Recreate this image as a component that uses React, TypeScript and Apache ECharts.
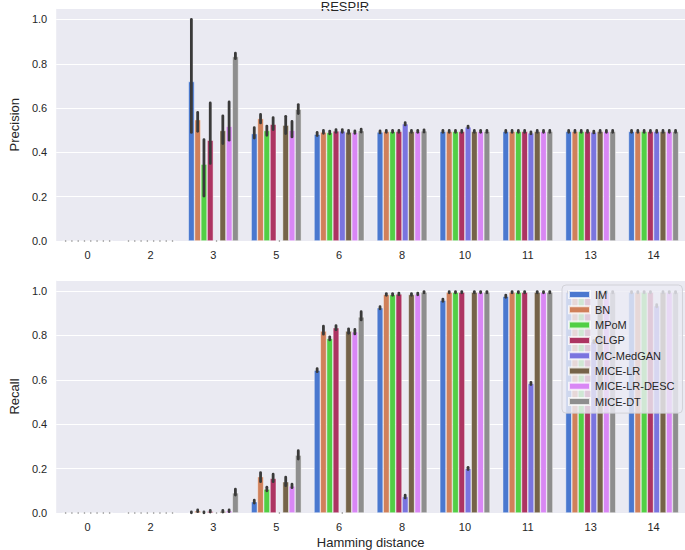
import React, { useEffect, useRef } from "react";
import * as echarts from "echarts";

const categories = ["0", "2", "3", "5", "6", "8", "10", "11", "13", "14"];
const methods = ["IM", "BN", "MPoM", "CLGP", "MC-MedGAN", "MICE-LR", "MICE-LR-DESC", "MICE-DT"];
const colors = ["#4a78cf", "#d0805a", "#52cf45", "#ad3462", "#7a74df", "#756349", "#d987f5", "#8e8e8e"];

// Precision (mean, CI low, CI high), one row per method, columns = categories
const precisionMean = [
  [0, 0, 0.72, 0.485, 0.482, 0.492, 0.495, 0.495, 0.495, 0.495],
  [0, 0, 0.548, 0.553, 0.492, 0.495, 0.495, 0.495, 0.495, 0.495],
  [0, 0, 0.347, 0.499, 0.49, 0.495, 0.495, 0.495, 0.495, 0.495],
  [0, 0, 0.455, 0.527, 0.497, 0.495, 0.495, 0.495, 0.495, 0.495],
  [0, 0, 0, 0, 0.497, 0.529, 0.515, 0.488, 0.492, 0.495],
  [0, 0, 0.499, 0.523, 0.492, 0.495, 0.495, 0.495, 0.495, 0.495],
  [0, 0, 0.518, 0.5, 0.491, 0.495, 0.495, 0.495, 0.495, 0.495],
  [0, 0, 0.833, 0.595, 0.498, 0.497, 0.495, 0.495, 0.495, 0.495],
];
const precisionLow = [
  [0, 0, 0.49, 0.465, 0.476, 0.488, 0.491, 0.491, 0.491, 0.491],
  [0, 0, 0.495, 0.533, 0.486, 0.491, 0.491, 0.491, 0.491, 0.491],
  [0, 0, 0.203, 0.477, 0.484, 0.491, 0.491, 0.491, 0.491, 0.491],
  [0, 0, 0.35, 0.503, 0.491, 0.491, 0.491, 0.491, 0.491, 0.491],
  [0, 0, 0, 0, 0.491, 0.524, 0.511, 0.484, 0.488, 0.491],
  [0, 0, 0.44, 0.485, 0.486, 0.491, 0.491, 0.491, 0.491, 0.491],
  [0, 0, 0.455, 0.47, 0.486, 0.491, 0.491, 0.491, 0.491, 0.491],
  [0, 0, 0.823, 0.575, 0.492, 0.492, 0.491, 0.491, 0.491, 0.491],
];
const precisionHigh = [
  [0, 0, 1.0, 0.512, 0.49, 0.497, 0.499, 0.499, 0.499, 0.499],
  [0, 0, 0.58, 0.571, 0.499, 0.499, 0.499, 0.499, 0.499, 0.499],
  [0, 0, 0.458, 0.519, 0.496, 0.499, 0.499, 0.499, 0.499, 0.499],
  [0, 0, 0.623, 0.557, 0.503, 0.499, 0.499, 0.499, 0.499, 0.499],
  [0, 0, 0, 0, 0.503, 0.534, 0.519, 0.492, 0.496, 0.499],
  [0, 0, 0.565, 0.563, 0.499, 0.499, 0.499, 0.499, 0.499, 0.499],
  [0, 0, 0.628, 0.54, 0.497, 0.499, 0.499, 0.499, 0.499, 0.499],
  [0, 0, 0.848, 0.616, 0.505, 0.502, 0.499, 0.499, 0.499, 0.499],
];

// Recall (mean, CI low, CI high)
const recallMean = [
  [0, 0, 0.003, 0.051, 0.644, 0.925, 0.959, 0.977, 0.995, 0.995],
  [0, 0, 0.01, 0.164, 0.82, 0.985, 0.995, 0.995, 0.995, 0.995],
  [0, 0, 0.003, 0.108, 0.787, 0.985, 0.995, 0.995, 0.995, 0.995],
  [0, 0, 0.008, 0.156, 0.835, 0.987, 0.995, 0.995, 0.995, 0.995],
  [0, 0, 0, 0, 0, 0.074, 0.201, 0.584, 0.772, 0.934],
  [0, 0, 0.008, 0.141, 0.82, 0.985, 0.995, 0.995, 0.995, 0.995],
  [0, 0, 0.01, 0.122, 0.817, 0.987, 0.995, 0.995, 0.995, 0.995],
  [0, 0, 0.091, 0.261, 0.884, 0.995, 0.995, 0.995, 0.995, 0.995],
];
const recallLow = [
  [0, 0, 0.001, 0.045, 0.637, 0.92, 0.954, 0.972, 0.992, 0.992],
  [0, 0, 0.006, 0.141, 0.806, 0.981, 0.992, 0.992, 0.992, 0.992],
  [0, 0, 0.001, 0.1, 0.78, 0.981, 0.992, 0.992, 0.992, 0.992],
  [0, 0, 0.004, 0.141, 0.826, 0.983, 0.992, 0.992, 0.992, 0.992],
  [0, 0, 0, 0, 0, 0.068, 0.196, 0.579, 0.767, 0.929],
  [0, 0, 0.004, 0.123, 0.81, 0.981, 0.992, 0.992, 0.992, 0.992],
  [0, 0, 0.006, 0.114, 0.807, 0.983, 0.992, 0.992, 0.992, 0.992],
  [0, 0, 0.081, 0.243, 0.87, 0.992, 0.992, 0.992, 0.992, 0.992],
];
const recallHigh = [
  [0, 0, 0.005, 0.058, 0.651, 0.93, 0.964, 0.982, 0.998, 0.998],
  [0, 0, 0.014, 0.182, 0.842, 0.989, 0.998, 0.998, 0.998, 0.998],
  [0, 0, 0.005, 0.116, 0.794, 0.989, 0.998, 0.998, 0.998, 0.998],
  [0, 0, 0.012, 0.175, 0.844, 0.991, 0.998, 0.998, 0.998, 0.998],
  [0, 0, 0, 0, 0, 0.08, 0.206, 0.589, 0.777, 0.939],
  [0, 0, 0.012, 0.161, 0.83, 0.989, 0.998, 0.998, 0.998, 0.998],
  [0, 0, 0.014, 0.13, 0.827, 0.991, 0.998, 0.998, 0.998, 0.998],
  [0, 0, 0.107, 0.281, 0.907, 0.998, 0.998, 0.998, 0.998, 0.998],
];

const FONT = "Liberation Sans, Arial, sans-serif";
const TEXT = "#262626";

export default function App() {
  const ref = useRef<HTMLDivElement>(null);
  useEffect(() => {
    if (!ref.current) return;
    const chart = echarts.init(ref.current, null, { renderer: "svg" });

    const makeY = (gridIndex: number, name: string) => ({
      type: "value",
      gridIndex,
      min: 0,
      max: 1.05,
      interval: 0.2,
      name,
      nameLocation: "middle",
      nameGap: 34,
      nameTextStyle: { fontFamily: FONT, fontSize: 13, color: TEXT },
      axisLine: { show: false },
      axisTick: { show: false },
      axisLabel: {
        fontFamily: FONT,
        fontSize: 11,
        color: TEXT,
        margin: 9,
        formatter: (v: number) => (v > 1.01 ? "" : v.toFixed(1)),
      },
      splitLine: { show: true, lineStyle: { color: "#ffffff", width: 1.1 } },
    });
    const makeX = (gridIndex: number, name?: string) => ({
      type: "category",
      gridIndex,
      data: categories,
      name: name || "",
      nameLocation: "middle",
      nameGap: 23,
      nameTextStyle: { fontFamily: FONT, fontSize: 13, color: TEXT },
      axisLine: { show: false },
      axisTick: { show: false },
      axisLabel: { fontFamily: FONT, fontSize: 11, color: TEXT, margin: 8 },
      splitLine: { show: false },
    });

    const series: any[] = [];
    const addPanel = (gi: number, mean: number[][], low: number[][], high: number[][]) => {
      methods.forEach((m, i) => {
        series.push({
          type: "bar",
          name: m,
          xAxisIndex: gi,
          yAxisIndex: gi,
          z: 2,
          data: mean[i],
          barGap: "0%",
          barCategoryGap: "20%",
          itemStyle: { color: colors[i], borderColor: "rgba(255,255,255,0.75)", borderWidth: 0.6 },
          emphasis: { disabled: true },
        });
      });
      methods.forEach((m, i) => {
        series.push({
          type: "custom",
          name: "err-" + m + "-" + gi,
          xAxisIndex: gi,
          yAxisIndex: gi,
          z: 3,
          data: categories.map((_, c) => [c, low[i][c], high[i][c]]),
          encode: { x: 0, y: [1, 2] },
          renderItem: (params: any, api: any) => {
            const c = api.value(0);
            const lo = api.value(1);
            const hi = api.value(2);
            const band = api.size([1, 0])[0];
            const bw = (band * 0.8) / methods.length;
            const x = api.coord([c, 0])[0] + (i - 3.5) * bw;
            const yHi = api.coord([c, hi])[1];
            const yLo = api.coord([c, lo])[1];
            const zero = hi === 0 && lo === 0;
            const w = zero ? 1.6 : 2.8;
            return {
              type: "rect",
              shape: { x: x - w / 2, y: yHi - (zero ? 0.8 : 1.4), width: w, height: yLo - yHi + (zero ? 1.6 : 2.8), r: w / 2 },
              style: { fill: zero ? "#8a8a8a" : "#3a3a3a" },
            };
          },
        });
      });
    };
    addPanel(0, precisionMean, precisionLow, precisionHigh);
    addPanel(1, recallMean, recallLow, recallHigh);

    chart.setOption({
      animation: false,
      backgroundColor: "#ffffff",
      textStyle: { fontFamily: FONT },
      graphic: [
        {
          type: "text",
          x: 345,
          y: 6,
          style: { text: "RESPIR", fontFamily: FONT, fontSize: 13, fill: TEXT, align: "center", verticalAlign: "middle" },
        },
      ],
      grid: [
        { left: 41, right: 0, top: 8.4, height: 232.6, show: true, backgroundColor: "#eaeaf2", borderWidth: 0 },
        { left: 41, right: 0, top: 280, height: 233, show: true, backgroundColor: "#eaeaf2", borderWidth: 0 },
      ],
      xAxis: [makeX(0), makeX(1, "Hamming distance")],
      yAxis: [makeY(0, "Precision"), makeY(1, "Recall")],
      legend: {
        data: methods,
        orient: "vertical",
        left: 562,
        top: 285,
        z: 20,
        itemWidth: 21,
        itemHeight: 7,
        itemGap: 2.3,
        icon: "rect",
        padding: [3, 8, 5, 6],
        backgroundColor: "rgba(236,236,244,0.82)",
        borderColor: "#d2d2d8",
        borderWidth: 1,
        borderRadius: 4,
        selectedMode: false,
        textStyle: { fontFamily: FONT, fontSize: 11, color: TEXT, lineHeight: 13 },
      },
      series,
    });
    return () => chart.dispose();
  }, []);
  return <div ref={ref} style={{ position: "fixed", left: 0, top: 0, width: 685, height: 550 }} />;
}
